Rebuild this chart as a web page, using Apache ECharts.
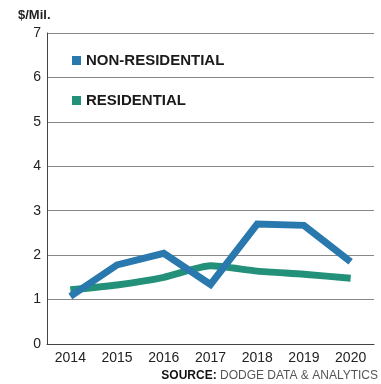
<!DOCTYPE html>
<html><head><meta charset="utf-8">
<script src="https://cdn.jsdelivr.net/npm/echarts@6/dist/echarts.min.js"></script>
<style>html,body{margin:0;padding:0;background:#fff}#c{width:381px;height:384px}</style>
</head><body><div id="c"></div>
<script>
var years = ['2014','2015','2016','2017','2018','2019','2020'];
var nonResidential = [1.07, 1.78, 2.04, 1.34, 2.7, 2.67, 1.85];
var residential = [1.22, 1.33, 1.5, 1.76, 1.64, 1.57, 1.48];
var yTicks = [0,1,2,3,4,5,6,7];
var blue = '#2a79ae', green = '#23917a';
var chart = echarts.init(document.getElementById('c'));
chart.setOption({
  backgroundColor: '#fff',
  animation: false,
  grid: {left: 47, right: 7, top: 33, bottom: 40},
  legend: {
    orient: 'vertical', left: 67, top: 48, itemGap: 25,
    icon: 'rect', itemWidth: 9, itemHeight: 9, itemTextGap: 6,
    textStyle: {fontFamily: 'Liberation Sans, Arial', fontWeight: 'bold', fontSize: 15, color: '#1a1a1a'},
    data: ['NON-RESIDENTIAL','RESIDENTIAL']
  },
  graphic: [
    {type: 'text', left: 18, top: 9, style: {text: '$/Mil.', font: 'bold 13px Liberation Sans, Arial', fill: '#222'}},
    {type: 'text', right: 3, top: 370, style: {
      text: '{b|SOURCE:} {l|DODGE DATA & ANALYTICS}',
      rich: {
        b: {fontFamily: 'Liberation Sans Narrow, Liberation Sans', fontWeight: 'bold', fontSize: 12, fill: '#111'},
        l: {fontFamily: 'Liberation Sans Narrow, Liberation Sans', fontSize: 12, fill: '#555'}
      }
    }}
  ],
  xAxis: {
    type: 'category', data: years, boundaryGap: true,
    axisLine: {lineStyle: {color: '#444', width: 1}},
    axisTick: {inside: true, alignWithLabel: true, length: 5, lineStyle: {color: '#555'}},
    axisLabel: {color: '#222', fontSize: 14, fontFamily: 'Liberation Sans, Arial', margin: 7},
    splitLine: {show: false}
  },
  yAxis: {
    type: 'value', min: yTicks[0], max: yTicks[yTicks.length-1], interval: 1,
    axisLine: {show: true, lineStyle: {color: '#444', width: 1}},
    axisTick: {show: false},
    axisLabel: {color: '#222', fontSize: 14, fontFamily: 'Liberation Sans, Arial', margin: 6},
    splitLine: {lineStyle: {color: '#888', width: 1}}
  },
  series: [
    {name: 'NON-RESIDENTIAL', type: 'line', data: nonResidential, symbol: 'none',
     lineStyle: {color: blue, width: 7, join: 'miter'}, itemStyle: {color: blue}, z: 3},
    {name: 'RESIDENTIAL', type: 'line', data: residential, symbol: 'none', smooth: 0.2,
     lineStyle: {color: green, width: 7}, itemStyle: {color: green}, z: 2}
  ]
});
</script></body></html>
